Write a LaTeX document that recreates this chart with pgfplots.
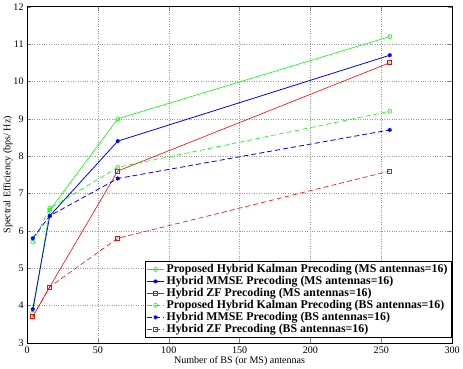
\documentclass[border=0pt]{standalone}
\usepackage{pgfplots}
\pgfplotsset{compat=1.18}
\usepackage{fontspec}
\setmainfont{Liberation Serif}
\begin{document}
\begin{tikzpicture}
\begin{axis}[
  scale only axis,
  width=421bp, height=333bp,
  xmin=0, xmax=300, ymin=3, ymax=12,
  xtick={0,50,...,300}, ytick={3,4,...,12},
  grid=major, major grid style={dotted, gray!80},
  tick align=inside,
  xlabel={Number of BS (or MS) antennas},
  ylabel={Spectral Efficiency (bps/ Hz)},
  xlabel style={yshift=4pt},
  ylabel style={yshift=-6pt},
  every tick label/.append style={font=\fontsize{10}{11}\selectfont},
  label style={font=\fontsize{10}{11}\selectfont},
  /pgf/number format/assume math mode=true,
  legend style={at={(0.998,0.015)}, anchor=south east, font=\bfseries\fontsize{11.8}{13}\selectfont, draw=black, row sep=-1.8pt, inner sep=1.5pt},
  legend cell align=left,
  mark size=2pt,
  dashpat/.style={dash pattern=on 5pt off 3pt},
]
\addplot[green, semithick, mark=o] coordinates {(4,3.8) (16,6.55) (64,9.0) (256,11.2)};
\addlegendentry{Proposed Hybrid Kalman Precoding (MS antennas=16)}
\addplot[blue, thick, mark=asterisk, mark options={solid, line width=1.2pt}] coordinates {(4,3.9) (16,6.4) (64,8.4) (256,10.7)};
\addlegendentry{Hybrid MMSE Precoding (MS antennas=16)}
\addplot[red, semithick, mark=square, mark options={solid}] coordinates {(4,3.7) (16,4.5) (64,7.6) (256,10.5)};
\addlegendentry{Hybrid ZF Precoding (MS antennas=16)}
\addplot[green, semithick, dashpat, mark=o, mark options={solid}] coordinates {(4,5.7) (16,6.6) (64,7.7) (256,9.2)};
\addlegendentry{Proposed Hybrid Kalman Precoding (BS antennas=16)}
\addplot[blue, thick, dashpat, mark=asterisk, mark options={solid, line width=1.2pt}] coordinates {(4,5.8) (16,6.4) (64,7.4) (256,8.7)};
\addlegendentry{Hybrid MMSE Precoding (BS antennas=16)}
\addplot[red, semithick, dashpat, mark=square, mark options={solid}] coordinates {(4,3.7) (16,4.5) (64,5.8) (256,7.6)};
\addlegendentry{Hybrid ZF Precoding (BS antennas=16)}
\end{axis}
\end{tikzpicture}
\end{document}
